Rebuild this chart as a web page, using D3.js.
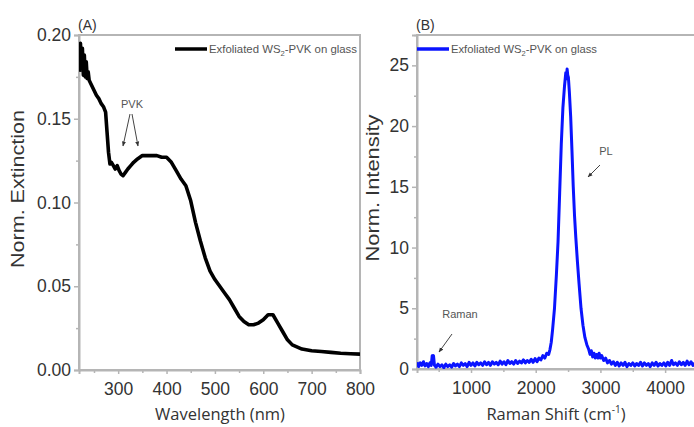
<!DOCTYPE html>
<html>
<head>
<meta charset="utf-8">
<script src="https://cdn.jsdelivr.net/npm/d3@7"></script>
<style>
  body { margin: 0; background: #fff; }
  svg { display: block; }
</style>
</head>
<body>
<div id="chart"></div>
<script>
// ---- data ----
const wavelength = [220, 222, 224, 226, 228, 230, 232, 234, 236, 238, 240, 245, 250, 255, 260, 265, 270, 274, 277, 280, 283, 286, 290, 294, 298, 302, 306, 310, 315, 320, 326, 332, 340, 350, 360, 370, 380, 390, 400, 410, 420, 430, 440, 450, 460, 470, 480, 490, 500, 510, 520, 530, 540, 550, 560, 570, 580, 590, 600, 610, 620, 630, 640, 650, 660, 680, 700, 720, 740, 760, 780, 800];
const extinction = [0.178, 0.195, 0.182, 0.192, 0.176, 0.188, 0.175, 0.184, 0.174, 0.178, 0.173, 0.170, 0.167, 0.164, 0.162, 0.159, 0.157, 0.154, 0.142, 0.130, 0.123, 0.124, 0.122, 0.120, 0.122, 0.119, 0.117, 0.116, 0.118, 0.120, 0.122, 0.124, 0.126, 0.128, 0.128, 0.128, 0.128, 0.127, 0.127, 0.124, 0.119, 0.114, 0.110, 0.101, 0.088, 0.077, 0.067, 0.059, 0.054, 0.050, 0.046, 0.042, 0.037, 0.032, 0.029, 0.027, 0.027, 0.028, 0.030, 0.033, 0.033, 0.028, 0.023, 0.018, 0.015, 0.0125, 0.0115, 0.011, 0.0105, 0.010, 0.0097, 0.0095];

const ramanShift = [165, 190, 215, 240, 265, 290, 315, 340, 365, 385, 400, 410, 420, 435, 460, 490, 520, 550, 580, 610, 640, 670, 700, 730, 760, 790, 820, 850, 880, 910, 940, 970, 1000, 1030, 1060, 1090, 1120, 1150, 1180, 1210, 1240, 1270, 1300, 1330, 1360, 1390, 1420, 1450, 1480, 1510, 1540, 1570, 1600, 1630, 1660, 1690, 1720, 1750, 1780, 1810, 1840, 1870, 1900, 1930, 1960, 1990, 2020, 2050, 2080, 2110, 2140, 2170, 2200, 2220, 2240,
  2260, 2290, 2320, 2345, 2370, 2395, 2420, 2445, 2465, 2475, 2485, 2495, 2505, 2520, 2540, 2560, 2580, 2600, 2620, 2645, 2670, 2700, 2730, 2760, 2790,
  2820, 2840, 2860, 2880, 2900, 2920, 2940, 2960, 2980, 3000, 3020, 3050, 3080, 3110, 3140, 3170, 3200, 3230, 3260, 3290, 3320, 3350, 3380, 3410, 3440, 3470, 3500, 3530, 3560, 3590, 3620, 3650, 3680, 3710, 3740, 3770, 3800, 3830, 3860, 3890, 3920, 3950, 3980, 4010, 4040, 4070, 4100, 4130, 4160, 4190, 4220, 4250, 4280, 4310, 4340, 4370, 4400, 4430, 4460];
const intensity = [0.55, 0.2, 0.5, 0.3, 0.6, 0.25, 0.45, 0.2, 0.5, 0.3, 1.1, 0.9, 1.1, 0.3, 0.15, 0.4, 0.2, 0.35, 0.1, 0.4, 0.2, 0.35, 0.15, 0.45, 0.25, 0.4, 0.2, 0.5, 0.3, 0.45, 0.2, 0.55, 0.3, 0.5, 0.25, 0.55, 0.35, 0.5, 0.3, 0.6, 0.35, 0.55, 0.3, 0.6, 0.4, 0.55, 0.35, 0.65, 0.4, 0.6, 0.35, 0.7, 0.45, 0.6, 0.4, 0.7, 0.45, 0.65, 0.5, 0.75, 0.5, 0.7, 0.55, 0.8, 0.55, 0.85, 0.6, 0.9, 0.75, 1.1, 0.9, 1.3, 1.2, 1.6, 2.2,
  3.2, 5.0, 7.8, 10.5, 14.5, 18.5, 21.5, 23.3, 24.4, 23.9, 24.7, 24.2, 24.0, 22.8, 20.8, 18.0, 15.0, 12.6, 10.8, 8.8, 7.0, 5.0, 3.6, 2.6, 2.0,
  1.6, 1.2, 1.5, 1.0, 1.3, 0.9, 1.2, 0.9, 1.3, 0.9, 1.1, 0.7, 0.9, 0.5, 0.7, 0.4, 0.6, 0.3, 0.55, 0.25, 0.5, 0.3, 0.55, 0.2, 0.45, 0.3, 0.5, 0.25, 0.45, 0.3, 0.55, 0.25, 0.5, 0.3, 0.45, 0.2, 0.5, 0.3, 0.55, 0.25, 0.45, 0.3, 0.5, 0.25, 0.55, 0.3, 0.7, 0.35, 0.5, 0.3, 0.6, 0.35, 0.55, 0.3, 0.65, 0.35, 0.6, 0.3, 0.5];

const extTicks = [0, 0.05, 0.10, 0.15, 0.20];
const wlTicks = [300, 400, 500, 600, 700, 800];
const intTicks = [0, 5, 10, 15, 20, 25];
const shiftTicks = [1000, 2000, 3000, 4000];

const legendLabel = "Exfoliated WS";

const W = 694, H = 427;
const frameColor = "#b5b5b5";
const textColor = "#333";

var svg = d3.select("#chart").append("svg")
  .attr("width", W)
  .attr("height", H);

svg.append("rect").attr("width", W).attr("height", H).attr("fill", "#fff");

function drawPanel(p) {
  var x = d3.scaleLinear().domain(p.xDomain).range([p.left, p.right]);
  var y = d3.scaleLinear().domain(p.yDomain).range([p.bottom, p.top]);

  var g = svg.append("g").attr("id", p.id);

  g.append("clipPath").attr("id", "clip" + p.id)
    .append("rect")
    .attr("x", p.left).attr("y", p.top)
    .attr("width", p.right - p.left).attr("height", p.bottom - p.top);

  // frame (top/right)
  g.append("rect")
    .attr("x", p.left).attr("y", p.top)
    .attr("width", p.right - p.left).attr("height", p.bottom - p.top)
    .attr("fill", "none")
    .attr("stroke", frameColor)
    .attr("stroke-width", 2);

  // minor ticks
  g.append("g")
    .attr("transform", "translate(" + p.left + ",0)")
    .call(d3.axisLeft(y).tickValues(p.yMinor).tickSize(3).tickFormat(""))
    .call(s => s.select(".domain").remove())
    .call(s => s.selectAll("line").attr("stroke", frameColor).attr("stroke-width", 1.5));
  g.append("g")
    .attr("transform", "translate(0," + p.bottom + ")")
    .call(d3.axisBottom(x).tickValues(p.xMinor).tickSize(3).tickFormat(""))
    .call(s => s.select(".domain").remove())
    .call(s => s.selectAll("line").attr("stroke", frameColor).attr("stroke-width", 1.5));

  // major ticks + labels
  var yAxis = g.append("g")
    .attr("transform", "translate(" + p.left + ",0)")
    .call(d3.axisLeft(y).tickValues(p.yTicks).tickSize(5).tickPadding(3).tickFormat(p.yFormat));
  var xAxis = g.append("g")
    .attr("transform", "translate(0," + p.bottom + ")")
    .call(d3.axisBottom(x).tickValues(p.xTicks).tickSize(4).tickPadding(9).tickFormat(d3.format("d")));
  [yAxis, xAxis].forEach(function(a) {
    a.select(".domain").attr("stroke", frameColor).attr("stroke-width", 2);
    a.selectAll("line").attr("stroke", frameColor).attr("stroke-width", 1.5);
    a.selectAll("text")
      .attr("fill", textColor)
      .style("font-family", "'Liberation Sans', Arial, sans-serif")
      .style("font-size", "17.5px");
  });

  // curve
  var line = d3.line()
    .x(function(d, i) { return x(p.xs[i]); })
    .y(function(d) { return y(d); });
  g.append("path")
    .datum(p.ys)
    .attr("clip-path", "url(#clip" + p.id + ")")
    .attr("d", line)
    .attr("fill", "none")
    .attr("stroke", p.color)
    .attr("stroke-width", p.lineWidth)
    .attr("stroke-linejoin", "round");

  // legend
  g.append("line")
    .attr("x1", p.legendX).attr("x2", p.legendX + 32)
    .attr("y1", 49).attr("y2", 49)
    .attr("stroke", p.color).attr("stroke-width", 3.5);
  var lt = g.append("text")
    .attr("x", p.legendX + 34).attr("y", 53)
    .attr("fill", "#555")
    .style("font-family", "'Liberation Sans', Arial, sans-serif")
    .style("font-size", "10.5px")
    .attr("textLength", p.legendLen)
    .attr("lengthAdjust", "spacingAndGlyphs");
  lt.append("tspan").text(legendLabel);
  lt.append("tspan").attr("dy", 3).style("font-size", "7px").text("2");
  lt.append("tspan").attr("dy", -3).text("-PVK on glass");

  // panel letter
  g.append("text")
    .attr("x", p.left - 1).attr("y", 30)
    .attr("fill", textColor)
    .style("font-family", "'Liberation Sans', Arial, sans-serif")
    .style("font-size", "14px")
    .text(p.letter);

  // axis titles
  g.append("text")
    .attr("transform", "translate(" + p.yTitleX + "," + p.yTitleY + ") rotate(-90)")
    .attr("text-anchor", "middle")
    .attr("fill", textColor)
    .style("font-family", "'Liberation Sans', Arial, sans-serif")
    .style("font-size", "18px")
    .attr("textLength", p.yTitleLen)
    .attr("lengthAdjust", "spacingAndGlyphs")
    .text(p.yTitle);

  var xt = g.append("text")
    .attr("x", p.xTitleX).attr("y", 420)
    .attr("text-anchor", "middle")
    .attr("fill", textColor)
    .style("font-family", "'Open Sans', sans-serif")
    .style("font-size", "16.5px");
  p.xTitle(xt);

  return {x: x, y: y, g: g};
}

function annotate(g, label, tx, ty, arrows) {
  g.append("text")
    .attr("x", tx).attr("y", ty)
    .attr("text-anchor", "middle")
    .attr("fill", "#555")
    .style("font-family", "'Liberation Sans', Arial, sans-serif")
    .style("font-size", "11px")
    .text(label);
  arrows.forEach(function(a) {
    g.append("line")
      .attr("x1", a[0]).attr("y1", a[1]).attr("x2", a[2]).attr("y2", a[3])
      .attr("stroke", "#444").attr("stroke-width", 1)
      .attr("marker-end", "url(#arrowHead)");
  });
}

svg.append("defs").append("marker")
  .attr("id", "arrowHead")
  .attr("viewBox", "0 0 10 10")
  .attr("refX", 9).attr("refY", 5)
  .attr("markerWidth", 5).attr("markerHeight", 5)
  .attr("orient", "auto")
  .append("path")
  .attr("d", "M0,1 L10,5 L0,9 Z")
  .attr("fill", "#333");

var A = drawPanel({
  id: "A", letter: "(A)",
  left: 79, right: 360, top: 35, bottom: 370,
  xDomain: [219, 800], yDomain: [0, 0.20],
  xTicks: wlTicks, yTicks: extTicks,
  xMinor: [250, 350, 450, 550, 650, 750], yMinor: [0.025, 0.075, 0.125, 0.175],
  yFormat: d3.format(".2f"),
  xs: wavelength, ys: extinction,
  color: "#000", lineWidth: 3.6,
  legendX: 175, legendLen: 148,
  yTitle: "Norm. Extinction", yTitleX: 24, yTitleY: 189, yTitleLen: 158,
  xTitle: function(t) { t.attr("x", 220).text("Wavelength (nm)"); }
});

var B = drawPanel({
  id: "B", letter: "(B)",
  left: 417, right: 702, top: 35, bottom: 369,
  xDomain: [165, 4570], yDomain: [0, 27.5],
  xTicks: shiftTicks, yTicks: intTicks,
  xMinor: [500, 1500, 2500, 3500, 4500], yMinor: [2.5, 7.5, 12.5, 17.5, 22.5, 27.5],
  yFormat: d3.format("d"),
  xs: ramanShift, ys: intensity,
  color: "#0a14ff", lineWidth: 3,
  legendX: 417, legendLen: 146,
  yTitle: "Norm. Intensity", yTitleX: 379, yTitleY: 188, yTitleLen: 147,
  xTitle: function(t) {
    t.attr("x", 556);
    t.append("tspan").text("Raman Shift (cm");
    t.append("tspan").attr("dy", -7).style("font-size", "10px").text("-1");
    t.append("tspan").attr("dy", 7).text(")");
  }
});

annotate(A.g, "PVK", 132, 108, [[130, 114, 123, 146], [132, 114, 138, 146]]);
annotate(B.g, "PL", 606, 155, [[600, 165, 588, 177]]);
annotate(B.g, "Raman", 460, 318, [[452, 334, 439, 352]]);
</script>
</body>
</html>
